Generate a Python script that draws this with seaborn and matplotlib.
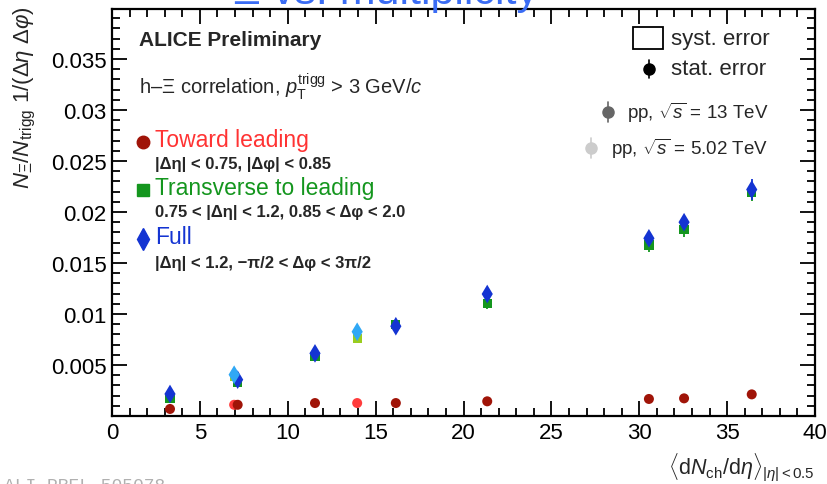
import numpy as np
import pandas as pd
import matplotlib
matplotlib.use("Agg")
import matplotlib.pyplot as plt
import seaborn as sns
from matplotlib.ticker import MultipleLocator, FixedLocator

# ---------------- data ----------------
mult_13 = [3.3, 7.15, 11.55, 16.15, 21.35, 30.55, 32.55, 36.4]
mult_502 = [6.95, 13.95]

toward_13 = [0.00069, 0.00110, 0.00127, 0.00127, 0.00144, 0.00167, 0.00173, 0.00212]
toward_502 = [0.00110, 0.00127]
transverse_13 = [0.00173, 0.00330, 0.00580, 0.00895, 0.01100, 0.01676, 0.01827, 0.02193]
transverse_502 = [0.00390, 0.00760]
full_13 = [0.00216, 0.00356, 0.00614, 0.00880, 0.01196, 0.01742, 0.01900, 0.02220]
full_502 = [0.00405, 0.00826]

stat_toward_13 = [0.00005, 0.00005, 0.00006, 0.00006, 0.00007, 0.00008, 0.00008, 0.00010]
stat_transverse_13 = [0.0002, 0.0003, 0.0003, 0.0004, 0.0005, 0.0007, 0.0007, 0.0009]
stat_full_13 = [0.0002, 0.0003, 0.0004, 0.0005, 0.0005, 0.0007, 0.0007, 0.0010]

x_ticks = [0, 5, 10, 15, 20, 25, 30, 35, 40]
y_ticks = [0.005, 0.01, 0.015, 0.02, 0.025, 0.03, 0.035]
y_tick_labels = ["0.005", "0.01", "0.015", "0.02", "0.025", "0.03", "0.035"]

# ---------------- style ----------------
sns.set_style("ticks")
plt.rcParams["font.family"] = ["Liberation Sans", "DejaVu Sans"]
plt.rcParams["mathtext.fontset"] = "custom"
plt.rcParams["mathtext.rm"] = "Liberation Sans"
plt.rcParams["mathtext.it"] = "Liberation Sans:italic"
plt.rcParams["mathtext.bf"] = "Liberation Sans:bold"

W, H = 828, 485
fig = plt.figure(figsize=(W / 100, H / 100), dpi=100)
ax = fig.add_axes([112 / W, 1 - 417 / H, (815 - 112) / W, (417 - 10) / H])

series = [
    # (x, y, err, colour, marker, size, zorder)
    (mult_13, transverse_13, stat_transverse_13, "#14961e", "s", 44, 3),
    (mult_502, transverse_502, None, "#9acd1e", "s", 44, 3),
    (mult_13, full_13, stat_full_13, "#1434d2", "d", 90, 4),
    (mult_502, full_502, None, "#30a8f5", "d", 90, 4),
    (mult_502, toward_502, None, "#ff3c3c", "o", 52, 5),
    (mult_13, toward_13, stat_toward_13, "#a01408", "o", 52, 5),
]

for xs, ys, err, col, mk, sz, z in series:
    df = pd.DataFrame({"x": xs, "y": ys})
    if err is not None:
        ax.errorbar(xs, ys, yerr=err, fmt="none", ecolor=col, elinewidth=1.3,
                    capsize=0, zorder=z - 0.5)
    sns.scatterplot(data=df, x="x", y="y", ax=ax, color=col, marker=mk, s=sz,
                    edgecolor="none", linewidth=0, zorder=z, legend=False)

ax.set_xlim(0, 40)
ax.set_ylim(0, 0.0399)
ax.xaxis.set_major_locator(FixedLocator(x_ticks))
ax.xaxis.set_minor_locator(MultipleLocator(1))
ax.yaxis.set_major_locator(FixedLocator(y_ticks))
ax.set_yticklabels(y_tick_labels)
ax.yaxis.set_minor_locator(MultipleLocator(0.001))
ax.tick_params(which="both", direction="in", top=True, right=True, width=1.3,
               labelsize=16, colors="black")
ax.tick_params(which="major", length=11, pad=4)
ax.tick_params(which="minor", length=5.5)
for sp in ax.spines.values():
    sp.set_linewidth(1.6)
    sp.set_color("black")
ax.set_xlabel("")
ax.set_ylabel("")

# axis titles
fig.text(25 / W, 1 - 6 / H,
         r"$N_{\Xi}/N_{\mathrm{trigg}}\ 1/(\Delta\eta\ \Delta\varphi)$",
         rotation=90, ha="center", va="top", fontsize=16)
fig.text(815 / W, 1 - 467 / H,
         r"$\langle\mathrm{d}N_{\mathrm{ch}}/\mathrm{d}\eta\rangle_{|\eta|<0.5}$",
         ha="right", va="center", fontsize=15.5)

# cropped title and watermark (both cut by the figure edge, as in the source)
fig.text(233 / W, 1 - 4 / H, r"Ξ vs. multiplicity", color="#3a6cf4",
         fontsize=31, ha="left", va="baseline", zorder=10)
fig.text(4 / W, 1 - 491 / H, "ALI-PREL-505078", color="#b0b0b0",
         fontsize=13, ha="left", va="baseline", family="Liberation Mono")


def ftxt(xp, yp, s, **kw):
    fig.text(xp / W, 1 - yp / H, s, va="center", ha="left", **kw)


ftxt(139, 41, "ALICE Preliminary", fontsize=15, fontweight="bold")
ftxt(139, 87, r"h–Ξ correlation, $p_{\mathrm{T}}^{\mathrm{trigg}}$ > 3 GeV/$c$",
     fontsize=14.5)

# left legend
leg_items = [
    (141, "#a01408", "o", 9, "Toward leading", "#ff3333",
     164, "|Δη| < 0.75, |Δφ| < 0.85"),
    (189, "#14961e", "s", 8, "Transverse to leading", "#14961e",
     213, "0.75 < |Δη| < 1.2, 0.85 < Δφ < 2.0"),
    (238, "#1434d2", "d", 11, "Full", "#1434d2",
     264, "|Δη| < 1.2, −π/2 < Δφ < 3π/2"),
]
for yp, mcol, mk, ms, label, tcol, yp2, sub in leg_items:
    fig.lines.append(plt.Line2D([143 / W], [1 - (yp + 2) / H], marker=mk,
                                color=mcol, markersize=ms, linestyle="none",
                                transform=fig.transFigure))
    ftxt(155, yp, label, fontsize=16.5, color=tcol)
    ftxt(155, yp2, sub, fontsize=12, fontweight="bold")

# right legend
fig.patches.append(plt.Rectangle((633 / W, 1 - 50 / H), 30 / W, 22 / H,
                                 fill=False, edgecolor="black", linewidth=1.3,
                                 transform=fig.transFigure))
ftxt(671, 39, "syst. error", fontsize=16)
fig.lines.append(plt.Line2D([649 / W, 649 / W], [1 - 61 / H, 1 - 79 / H],
                            color="black", linewidth=1.2,
                            transform=fig.transFigure))
fig.lines.append(plt.Line2D([649 / W], [1 - 70 / H], marker="o", color="black",
                            markersize=8, linestyle="none",
                            transform=fig.transFigure))
ftxt(671, 70, "stat. error", fontsize=16)

for xm, yp, col, xt, lab in [
    (608, 113, "#666666", 627, r"pp, $\sqrt{s}$ = 13 TeV"),
    (591, 149, "#cccccc", 611, r"pp, $\sqrt{s}$ = 5.02 TeV"),
]:
    fig.lines.append(plt.Line2D([xm / W, xm / W], [1 - (yp - 10) / H, 1 - (yp + 10) / H],
                                color=col, linewidth=1.2,
                                transform=fig.transFigure))
    fig.lines.append(plt.Line2D([xm / W], [1 - yp / H], marker="o", color=col,
                                markersize=8, linestyle="none",
                                transform=fig.transFigure))
    ftxt(xt, yp, lab, fontsize=13.5)

fig.savefig("out.png", dpi=100)
